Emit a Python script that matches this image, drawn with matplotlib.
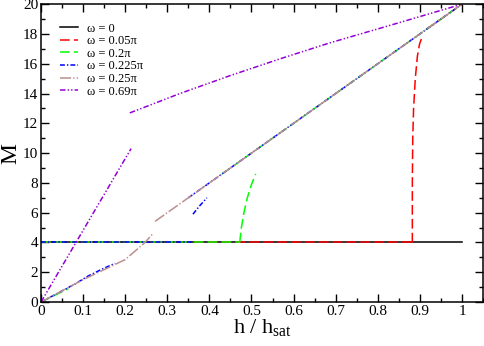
import matplotlib
matplotlib.use("Agg")
import matplotlib.pyplot as plt
from matplotlib.ticker import MultipleLocator

plt.rcParams['font.family'] = ['Liberation Serif', 'DejaVu Serif']
plt.rcParams['mathtext.fontset'] = 'custom'
plt.rcParams['mathtext.rm'] = 'Liberation Serif'
plt.rcParams['lines.scale_dashes'] = False

# omega = 0
h_w0 = [0.0, 1.0]
m_w0 = [4.0, 4.0]

# omega = 0.05 pi
h_w1_flat = [0.0, 0.882]
m_w1_flat = [4.0, 4.0]
h_w1_up = [0.882, 0.882, 0.883, 0.885, 0.889, 0.894, 0.899, 0.905]
m_w1_up = [4.0, 8.0, 11.0, 13.0, 15.0, 16.5, 17.3, 17.8]
h_w1_diag = [0.915, 1.0]
m_w1_diag = [18.3, 20.0]

# omega = 0.2 pi
h_w2_low = [0.0, 0.065]
m_w2_low = [0.0, 0.9]
h_w2_flat = [0.0, 0.472]
m_w2_flat = [4.0, 4.0]
h_w2_up = [0.472, 0.476, 0.482, 0.49, 0.50, 0.51]
m_w2_up = [4.0, 5.0, 6.0, 7.0, 7.9, 8.6]
h_w2_diag = [0.43, 1.0]
m_w2_diag = [8.6, 20.0]

# omega = 0.225 pi
h_w3_low = [0.0, 0.08, 0.112, 0.148, 0.176]
m_w3_low = [0.0, 1.2, 1.75, 2.25, 2.6]
h_w3_flat = [0.0, 0.36]
m_w3_flat = [4.0, 4.0]
h_w3_up = [0.361, 0.375, 0.394]
m_w3_up = [5.9, 6.4, 7.0]
h_w3_diag = [0.35, 1.0]
m_w3_diag = [7.0, 20.0]

# omega = 0.25 pi
h_w4_low = [0.0, 0.1, 0.2, 0.247, 0.266]
m_w4_low = [0.0, 1.5, 2.85, 4.0, 4.6]
h_w4_diag = [0.271, 1.0]
m_w4_diag = [5.42, 20.0]

# omega = 0.69 pi
h_w5_low = [0.0, 0.214]
m_w5_low = [0.0, 10.3]
h_w5_high = [0.211, 0.33, 0.449, 0.57, 0.686, 0.85, 1.0]
m_w5_high = [12.7, 14.0, 15.2, 16.35, 17.4, 18.75, 20.0]

fig = plt.figure(figsize=(4.85, 3.46), dpi=100)
ax = fig.add_axes([0.0845, 0.127, 0.9115, 0.861])

lw = 1.1
st_red = dict(color='#ff0000', lw=lw, dashes=(7, 3))
st_green = dict(color='#00ff00', lw=lw, dashes=(7, 3))
st_blue = dict(color='#0000ff', lw=lw, dashes=(3.5, 1.5, 1, 1.5))
st_brown = dict(color='#bc8f8f', lw=lw, dashes=(8, 1.5, 1, 1.5))
st_purple = dict(color='#9400d3', lw=lw, dashes=(4, 1.5, 1, 1.5, 1, 1.5))

ax.plot(h_w0, m_w0, color='black', lw=lw, label='ω = 0')

ax.plot(h_w1_flat, m_w1_flat, label='ω = 0.05π', **st_red)
ax.plot(h_w1_up, m_w1_up, **st_red)
ax.plot(h_w1_diag, m_w1_diag, **st_red)

ax.plot(h_w2_low, m_w2_low, label='ω = 0.2π', **st_green)
ax.plot(h_w2_flat, m_w2_flat, **st_green)
ax.plot(h_w2_up, m_w2_up, **st_green)
ax.plot(h_w2_diag, m_w2_diag, **st_green)

ax.plot(h_w3_low, m_w3_low, label='ω = 0.225π', **st_blue)
ax.plot(h_w3_flat, m_w3_flat, **st_blue)
ax.plot(h_w3_up, m_w3_up, **st_blue)
ax.plot(h_w3_diag, m_w3_diag, **st_blue)

ax.plot(h_w4_low, m_w4_low, label='ω = 0.25π', **st_brown)
ax.plot(h_w4_diag, m_w4_diag, **st_brown)

ax.plot(h_w5_low, m_w5_low, label='ω = 0.69π', **st_purple)
ax.plot(h_w5_high, m_w5_high, **st_purple)

ax.set_xlim(0, 1.05)
ax.set_ylim(0, 20)
ax.xaxis.set_major_locator(MultipleLocator(0.1))
ax.xaxis.set_minor_locator(MultipleLocator(0.05))
ax.yaxis.set_major_locator(MultipleLocator(2))
ax.yaxis.set_minor_locator(MultipleLocator(1))
ax.set_xticks([0, 0.1, 0.2, 0.3, 0.4, 0.5, 0.6, 0.7, 0.8, 0.9, 1.0])
ax.set_xticklabels(['0', '0.1', '0.2', '0.3', '0.4', '0.5', '0.6', '0.7', '0.8', '0.9', '1'])
ax.tick_params(which='both', direction='in', top=True, right=True, labelsize=11, pad=2)
ax.tick_params(which='major', length=6, width=1)
ax.tick_params(which='minor', length=3, width=1)
for s in ax.spines.values():
    s.set_linewidth(1.1)

ax.set_xlabel('h / h$_{\\mathrm{sat}}$', fontsize=16, labelpad=0)
ax.set_ylabel('M', fontsize=17)
ax.yaxis.set_label_coords(-0.045, 0.5)

ax.legend(loc='upper left', bbox_to_anchor=(0.043, 0.938), frameon=False, fontsize=9,
          handlelength=1.45, handletextpad=0.75, labelspacing=0.05, borderpad=0, borderaxespad=0)

fig.savefig('out.png', dpi=100)
